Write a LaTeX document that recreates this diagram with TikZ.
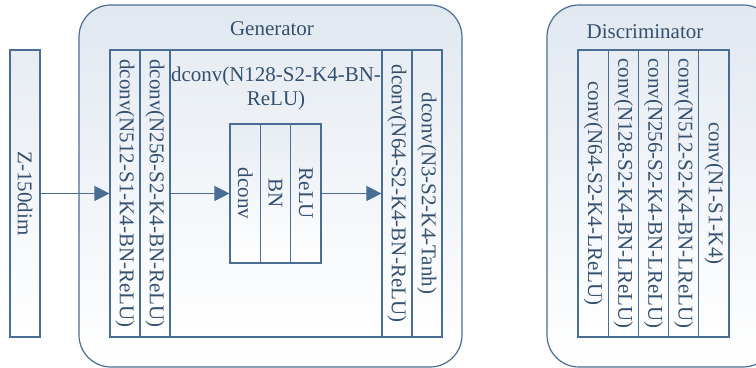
\documentclass[tikz,border=0pt]{standalone}
\usepackage{fontspec}
\setmainfont{Liberation Serif}
\usetikzlibrary{arrows.meta,positioning}

\definecolor{linec}{HTML}{4A6D93}
\definecolor{textc}{HTML}{34506F}
\definecolor{shadec}{HTML}{E1E8F0}

\tikzset{
  panel/.style={draw=linec, line width=0.6pt, rounded corners=16pt,
    top color=shadec, bottom color=white, inner sep=0pt},
  col/.style={draw=linec, line width=0.6pt, top color=shadec!80, bottom color=white,
    minimum width=15pt, minimum height=143.5pt, inner sep=0pt},
  vlab/.style={rotate=-90, text=textc},
  flow/.style={draw=linec, line width=0.6pt, -{Triangle[length=7.5pt,width=7.5pt]}}
}

\begin{document}
\begin{tikzpicture}[x=0.5pt, y=-0.5pt, font=\fontsize{10.5}{12}\selectfont, text=textc]
    \useasboundingbox (0,0) rectangle (756,368);

    % panels
    \node[panel, minimum width=191.5pt, minimum height=181pt] (gen) at (270.5,186) {};
    \node[panel, minimum width=114pt, minimum height=181pt] (dis) at (661,186) {};
    \node (gentitle) at (272,29) {Generator};
    \node (distitle) at (645,32) {Discriminator};

    % input
    \node[col] (z) at (25,193.5) [label={[vlab]center:Z-150dim}] {};

    % generator
    \node[col] (g1) at (125,193.5) [label={[vlab]center:dconv(N512-S1-K4-BN-ReLU)}] {};
    \node[col] (g2) at (155,193.5) [label={[vlab]center:dconv(N256-S2-K4-BN-ReLU)}] {};
    \node[col, minimum width=106pt] (g3) at (276,193.5) {};
    \node[col] (g4) at (397,193.5) [label={[vlab]center:dconv(N64-S2-K4-BN-ReLU)}] {};
    \node[col] (g5) at (427,193.5) [label={[vlab]center:dconv(N3-S2-K4-Tanh)}] {};
    \node[align=center] (g3t) [below=5pt of g3.north] {dconv(N128-S2-K4-BN-\\ReLU)};

    \node[col, minimum width=15.17pt, minimum height=69.5pt] (b1) at (245.2,193.5) [label={[vlab]center:dconv}] {};
    \node[col, minimum width=15.17pt, minimum height=69.5pt] (b2) at (275.5,193.5) [label={[vlab]center:BN}] {};
    \node[col, minimum width=15.17pt, minimum height=69.5pt] (b3) at (305.8,193.5) [label={[vlab]center:ReLU}] {};

    % discriminator
    \node[col, minimum width=15.1pt] (d1) at (593.1,193.5) [label={[vlab]center:conv(N64-S2-K4-LReLU)}] {};
    \node[col, minimum width=15.1pt] (d2) at (623.3,193.5) [label={[vlab]center:conv(N128-S2-K4-BN-LReLU)}] {};
    \node[col, minimum width=15.1pt] (d3) at (653.5,193.5) [label={[vlab]center:conv(N256-S2-K4-BN-LReLU)}] {};
    \node[col, minimum width=15.1pt] (d4) at (683.7,193.5) [label={[vlab]center:conv(N512-S2-K4-BN-LReLU)}] {};
    \node[col, minimum width=15.1pt] (d5) at (713.9,193.5) [label={[vlab]center:conv(N1-S1-K4)}] {};

    \draw[flow] (z) -- (g1);
    \draw[flow] (g2) -- (b1);
    \draw[flow] (b3) -- (g4);
\end{tikzpicture}
\end{document}
